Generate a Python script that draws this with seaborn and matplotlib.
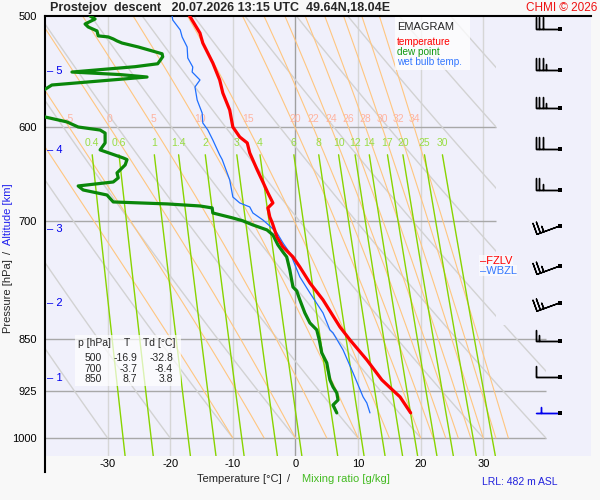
import numpy as np
import pandas as pd
import matplotlib
matplotlib.use("Agg")
import matplotlib.pyplot as plt
from matplotlib.patches import Polygon, Rectangle
from matplotlib.ticker import NullLocator
import seaborn as sns

# ---------------- data ----------------
temp_p = [500, 514.2, 522.7, 540.1, 555.4, 567.4, 583.5, 600, 609.9, 615.9, 626.1, 643.9,
          656.7, 668.6, 679.7, 685.3, 695.5, 702.4, 718.8, 730.6, 742.7, 755.1, 775.1,
          797.0, 833.2, 851.1, 879.6, 909.0, 924.1, 934.7, 959.6]
temp_t = [-16.9, -15.25, -14.8, -13.2, -12.1, -11.6, -10.5, -10.0, -8.9, -7.7, -7.3, -6.1,
          -5.2, -4.4, -3.6, -4.4, -4.1, -3.7, -2.95, -2.0, -0.4, 0.7, 2.3,
          4.4, 7.1, 8.7, 11.4, 13.8, 15.5, 16.7, 18.4]

dew_p = [500, 502.5, 506.6, 509.1, 512.4, 516.6, 517.5, 519.2, 520.9, 522.7, 526.1, 532.0,
         534.6, 540.8, 543.4, 548.2, 550.5, 552.7, 560.0, 575.0, 590.2, 595.0, 600, 603.0,
         606.0, 615.9, 623.0, 631.3, 633.0, 638.6, 647.0, 652.3, 656.7, 661.0, 665.4,
         670.9, 678.6, 680.8, 683.1, 685.3, 691.0, 696.7, 700, 704.7, 710.5, 716.4, 728.2,
         736.7, 742.7, 758.8, 780.3, 785.4, 797.0, 814.3, 827.7, 837.3, 851.1, 869.5,
         883.9, 908.9, 919.5, 928.6, 939.4, 947.2, 959.6]
dew_t = [-32.8, -32.0, -33.6, -33.1, -31.7, -31.5, -29.9, -29.1, -28.5, -27.7, -25.1, -21.3,
         -21.2, -22.0, -25.6, -35.7, -28.0, -23.7, -38.9, -43.0, -40.0, -36.5, -34.7, -31.2,
         -30.4, -30.4, -31.2, -27.5, -26.9, -27.2, -28.5, -28.3, -29.1, -34.7, -33.9,
         -30.1, -29.1, -20.5, -15.25, -13.3, -13.2, -10.0, -8.4, -6.8, -4.55, -3.6, -2.8,
         -2.0, -1.4, -0.9, -0.4, 0.2, 0.7, 1.5, 2.3, 3.4, 3.8, 4.2,
         5.0, 5.5, 6.0, 6.6, 6.8, 6.0, 6.6]

wb_p = [500, 503.3, 511.6, 517.5, 526.1, 535.7, 543.7, 548.2, 555.4, 561.8, 574.0, 586.4,
        596.0, 602.9, 612.9, 628.2, 633.0, 654.5, 673.1, 679.7, 684.2, 691.0, 699.0, 705.9,
        714.0, 725.8, 737.9, 746.4, 767.5, 787.9, 814.3, 837.3, 841.4, 865.2, 898.6,
        934.7, 944.1, 959.6]
wb_t = [-19.7, -19.6, -18.4, -18.1, -17.3, -17.2, -16.4, -16.5, -15.25, -16.05, -15.7, -14.9,
        -14.8, -14.0, -13.2, -12.1, -11.7, -10.5, -10.0, -8.9, -7.3, -6.8, -5.2, -4.1,
        -2.95, -2.0, -0.9, -0.4, 0.7, 2.3, 4.4, 5.5, 6.0, 7.6, 9.2,
        10.8, 11.4, 11.9]

barb_p = [510.8, 546, 582, 622, 665, 706, 754, 801, 853, 905, 960]
barb_spd = [30, 35, 35, 30, 25, 25, 25, 25, 15, 10, 5]
barb_dir = [270, 270, 270, 270, 270, 250, 250, 250, 270, 270, 270]

alt_km = [1, 2, 3, 4, 5]
alt_p = [906, 801, 709, 623, 547]

theta_w = [-10, -5, 0, 5, 10, 15, 20, 22, 24, 26, 28, 30, 32, 34]
theta_dry = [-30, -20, -10, 0, 10, 20, 30, 40, 50, 60, 70, 80, 90, 100, 110, 120]
mix_ratios = [0.4, 0.6, 1, 1.4, 2, 3, 4, 6, 8, 10, 12, 14, 17, 20, 25, 30]
mix_labels = ["0.4", "0.6", "1", "1.4", "2", "3", "4", "6", "8", "10", "12", "14", "17", "20", "25", "30"]

p_levels = [600, 700, 850, 925, 1000]
t_grid = [-30, -20, -10, 0, 10, 20, 30]

table_p = ["500", "700", "850"]
table_t = ["-16.9", "-3.7", "8.7"]
table_td = ["-32.8", "-8.4", "3.8"]

# ---------------- style ----------------
sns.set_style("white")
plt.rcParams['font.family'] = ['Liberation Sans', 'DejaVu Sans']
plt.rcParams['axes.unicode_minus'] = False

W, H = 600, 500
def fx(x): return x / W
def fy(y): return 1 - y / H

fig = plt.figure(figsize=(6, 5), dpi=100, facecolor='#f8f8f8')
ax = fig.add_axes([fx(45), fy(456), 546 / W, 440 / H])
ax.set_facecolor('#f0f0fb')
ax.set_yscale('log')

clip = Polygon([(-40, 500), (32, 500), (32, 830), (40, 830), (40, 1030), (-40, 1030)],
               closed=True, transform=ax.transData, facecolor='none', edgecolor='none')
ax.add_patch(clip)

# temperature grid
for t in t_grid:
    ax.axvline(t, color='#a0a0a0' if t == 0 else '#d6d6d6', lw=1.0, zorder=1)
for p in p_levels:
    ax.hlines(p, -40, 32 if p < 800 else 40, color='#a8a8a8', lw=1.0, zorder=1.1)

# dry adiabats
pp = np.geomspace(500, 1000, 120)
for th in theta_dry:
    tt = (th + 273.15) * (pp / 1000.0) ** 0.2857 - 273.15
    ln, = ax.plot(tt, pp, color='#d2d2d2', lw=1.0, zorder=1.2)
    ln.set_clip_path(clip)

# pseudo-adiabats
def esat(tc):
    return 6.112 * np.exp(17.67 * tc / (tc + 243.5))

def moist(tw):
    Rd, cp, Lv, eps = 287.04, 1005.7, 2.501e6, 0.622
    ps = np.geomspace(1000, 500, 300)
    T = tw + 273.15
    out = [T]
    def f(T, p):
        es = esat(T - 273.15)
        rs = eps * es / (p - es)
        return (Rd * T + Lv * rs) / (cp + Lv * Lv * rs * eps / (Rd * T * T))
    for i in range(1, len(ps)):
        p0, p1 = ps[i - 1], ps[i]
        d = np.log(p1 / p0)
        k1 = f(T, p0)
        k2 = f(T + 0.5 * d * k1, np.sqrt(p0 * p1))
        T = T + d * k2
        out.append(T)
    return ps, np.array(out) - 273.15

for tw in theta_w:
    ps, ts = moist(tw)
    ln, = ax.plot(ts, ps, color='#ffc680', lw=0.8, zorder=1.3)
    ln.set_clip_path(clip)
    t600 = np.interp(600, ps[::-1], ts[::-1])
    if t600 > -39:
        ax.text(t600, 592, str(tw), color='#ffb4a0', fontsize=7.5, ha='center', va='center', zorder=2)

# mixing ratio lines
pm = np.geomspace(628, 1030, 80)
for w, lab in zip(mix_ratios, mix_labels):
    es = w * pm / (622.0 + w)
    L = np.log(es / 6.112)
    tm = 243.5 * L / (17.67 - L)
    ln, = ax.plot(tm, pm, color='#88d400', lw=1.0, zorder=1.4)
    ln.set_clip_path(clip)
    ax.text(tm[0], 616, lab, color='#99dd44', fontsize=7.5, ha='center', va='center', zorder=2)

# profiles (seaborn)
df_t = pd.DataFrame({'T': temp_t, 'p': temp_p})
df_d = pd.DataFrame({'T': dew_t, 'p': dew_p})
df_w = pd.DataFrame({'T': wb_t, 'p': wb_p})
sns.lineplot(data=df_w, x='T', y='p', sort=False, estimator=None, orient='y',
             color='#1f6fff', lw=0.9, ax=ax, zorder=4)
sns.lineplot(data=df_d, x='T', y='p', sort=False, estimator=None, orient='y',
             color='#0a870a', lw=2.3, ax=ax, zorder=4.2)
sns.lineplot(data=df_t, x='T', y='p', sort=False, estimator=None, orient='y',
             color='#ff0000', lw=2.3, ax=ax, zorder=4.4)

# wind barbs
BARB_T = 42.2
bd = np.radians(barb_dir)
u = [-s * np.sin(d) for s, d in zip(barb_spd, bd)]
v = [-s * np.cos(d) for s, d in zip(barb_spd, bd)]
bcol = ['black'] * (len(barb_p) - 1) + ['#0000ee']
ax.barbs([BARB_T] * len(barb_p), barb_p, u, v, length=5.9, pivot='tip', lw=1.0,
         barbcolor=bcol, flagcolor=bcol,
         sizes=dict(emptybarb=0, height=0.48, spacing=0.15, width=0.0), zorder=5)
ax.scatter([BARB_T] * len(barb_p), barb_p, marker='s', s=7, color='black', zorder=6, linewidths=0)

# altitude labels
for km, p in zip(alt_km, alt_p):
    ax.text(-39.7, p, f"\u2013 {km}", color='#0000ee', fontsize=8, ha='left', va='center', zorder=6)

# freezing level labels (WBZL stacked just below FZLV)
fz = np.interp(0, temp_t[17:26], temp_p[17:26])
ax.text(29.4, fz, "\u2013FZLV", color='#ff0000', fontsize=8, ha='left', va='center', zorder=6,
        bbox=dict(facecolor='white', edgecolor='none', alpha=0.6, pad=0.5))
ax.text(29.4, fz * np.exp(10 / 609), "\u2013WBZL", color='#3377ff', fontsize=8, ha='left',
        va='center', zorder=6, bbox=dict(facecolor='white', edgecolor='none', alpha=0.6, pad=0.5))

# axes formatting
ax.set_xlim(-40, 47.2)
ax.set_ylim(1030, 500)
ax.set_xlabel('')
ax.set_ylabel('')
ax.set_yticks([500] + p_levels)
ax.set_yticklabels([str(p) for p in [500] + p_levels])
ax.yaxis.set_minor_locator(NullLocator())
ax.set_xticks(t_grid)
ax.set_xticklabels([str(t) for t in t_grid])
ax.tick_params(axis='both', length=0, labelsize=8, colors='black')
ax.tick_params(axis='y', pad=6)
ax.tick_params(axis='x', pad=2)
for s in ['right', 'bottom']:
    ax.spines[s].set_visible(False)
for s in ['top', 'left']:
    ax.spines[s].set_color('black')
    ax.spines[s].set_linewidth(1.5)
ax.spines['left'].set_bounds(500, 1058)

# figure texts
fig.text(fx(50), fy(8), "Prostejov  descent   20.07.2026 13:15 UTC  49.64N,18.04E",
         fontsize=9, fontweight='bold', ha='left', va='center')
fig.text(fx(597), fy(8), "CHMI \u00a9 2026", color='#ee1111', fontsize=8.5, ha='right', va='center')

fig.add_artist(Rectangle((fx(395), fy(70)), 75 / W, 53 / H, transform=fig.transFigure,
                         facecolor='white', edgecolor='none', alpha=0.75, zorder=2))
fig.text(fx(397), fy(27), "EMAGRAM", fontsize=8, ha='left', va='center', zorder=3)
fig.text(fx(397), fy(42), "temperature", color='#ff0000', fontsize=7.2, ha='left', va='center', zorder=3)
fig.text(fx(397), fy(52), "dew point", color='#119911', fontsize=7.2, ha='left', va='center', zorder=3)
fig.text(fx(397), fy(62), "wet bulb temp.", color='#3377ff', fontsize=7.2, ha='left', va='center', zorder=3)

fig.add_artist(Rectangle((fx(75), fy(386)), 106 / W, 51 / H, transform=fig.transFigure,
                         facecolor='white', edgecolor='none', alpha=0.7, zorder=2))
fig.text(fx(78), fy(343), "p [hPa]", fontsize=7.5, ha='left', va='center', zorder=3)
fig.text(fx(127), fy(343), "T", fontsize=7.5, ha='center', va='center', zorder=3)
fig.text(fx(143), fy(343), "Td [\u00b0C]", fontsize=7.5, ha='left', va='center', zorder=3)
for i, (a, b, c) in enumerate(zip(table_p, table_t, table_td)):
    yy = 358 + i * 10.5
    fig.text(fx(102), fy(yy), a, fontsize=7.5, ha='right', va='center', zorder=3)
    fig.text(fx(137), fy(yy), b, fontsize=7.5, ha='right', va='center', zorder=3)
    fig.text(fx(173), fy(yy), c, fontsize=7.5, ha='right', va='center', zorder=3)

fig.text(fx(197), fy(479), "Temperature [\u00b0C]", fontsize=8, ha='left', va='center')
fig.text(fx(289), fy(479), "/", fontsize=8, ha='center', va='center')
fig.text(fx(302), fy(479), "Mixing ratio [g/kg]", color='#44bb22', fontsize=8, ha='left', va='center')

fig.text(fx(8), fy(333), "Pressure [hPa]", fontsize=8, rotation=90, ha='center', va='bottom')
fig.text(fx(8), fy(252), "/", fontsize=8, rotation=90, ha='center', va='center')
fig.text(fx(8), fy(183), "Altitude [km]", color='#2222ee', fontsize=8, rotation=90, ha='center', va='top')

fig.text(fx(482), fy(482), "LRL: 482 m ASL", color='#2222dd', fontsize=7.5, ha='left', va='center')

fig.savefig("out.png", dpi=100, facecolor=fig.get_facecolor())
